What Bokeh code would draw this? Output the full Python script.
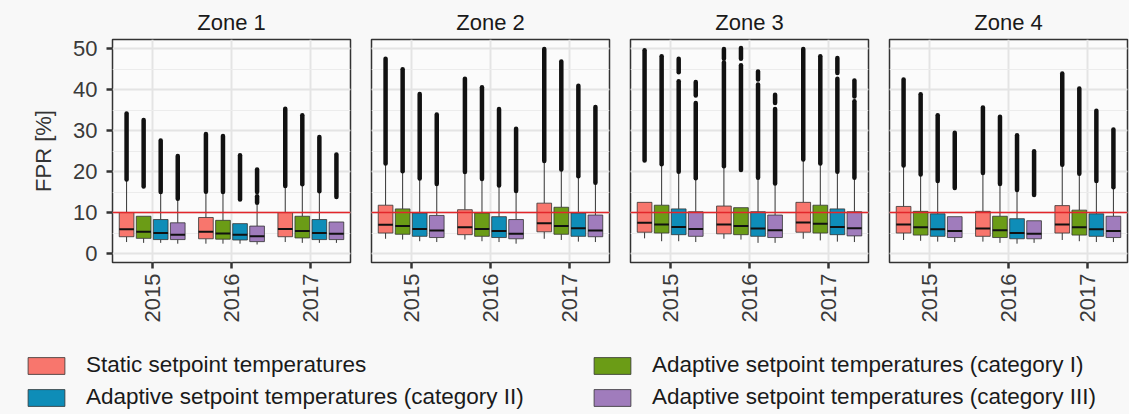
import math
from bokeh.plotting import figure
from bokeh.models import (Range1d, FactorRange, ColumnDataSource, SingleIntervalTicker,
                          Span, Legend, LegendItem)
from bokeh.transform import dodge
from bokeh.layouts import row, column
from bokeh.embed import file_html
from bokeh.resources import INLINE

# ---------------- data ----------------
years = ["2015", "2016", "2017"]
series = ["Static setpoint temperatures",
          "Adaptive setpoint temperatures (category I)",
          "Adaptive setpoint temperatures (category II)",
          "Adaptive setpoint temperatures (category III)"]
colors = ["#F8766D", "#6B9C16", "#0E8DB8", "#A07CBC"]
zones = ["Zone 1", "Zone 2", "Zone 3", "Zone 4"]
threshold = 10
y_ticks_step = 10

# each list: 2015 (S, I, II, III), 2016 (S, I, II, III), 2017 (S, I, II, III)
lower_whisker = {
    "Zone 1": [2.8, 2.6, 2.6, 2.4, 2.4, 2.4, 2.4, 2.2, 2.8, 2.6, 2.6, 2.6],
    "Zone 2": [3.6, 3.4, 3.0, 2.8, 3.4, 3.0, 2.8, 2.4, 3.6, 3.3, 2.9, 2.8],
    "Zone 3": [3.7, 3.0, 3.0, 2.8, 3.6, 3.4, 2.6, 2.6, 3.6, 3.2, 2.9, 2.8],
    "Zone 4": [3.3, 3.1, 2.9, 2.8, 2.9, 2.6, 2.4, 2.6, 3.3, 3.0, 2.8, 2.8],
}
q1 = {
    "Zone 1": [4.1, 3.7, 3.4, 3.4, 3.6, 3.5, 3.3, 2.9, 4.1, 3.8, 3.4, 3.4],
    "Zone 2": [5.0, 4.7, 4.2, 3.9, 4.6, 4.2, 3.9, 3.6, 5.3, 4.7, 4.2, 4.1],
    "Zone 3": [5.2, 5.0, 4.6, 4.2, 4.8, 4.6, 4.2, 3.9, 5.2, 5.0, 4.6, 4.3],
    "Zone 4": [5.0, 4.5, 4.2, 3.9, 4.2, 3.9, 3.6, 3.6, 5.0, 4.5, 4.2, 3.9],
}
median = {
    "Zone 1": [5.9, 5.3, 5.0, 4.6, 5.3, 4.9, 4.6, 4.2, 6.0, 5.5, 5.0, 4.8],
    "Zone 2": [7.0, 6.7, 6.0, 5.6, 6.4, 6.0, 5.5, 4.8, 7.4, 6.7, 6.2, 5.6],
    "Zone 3": [7.5, 7.1, 6.5, 6.0, 7.1, 6.7, 6.1, 5.7, 7.6, 7.3, 6.5, 6.2],
    "Zone 4": [7.1, 6.4, 5.9, 5.5, 6.1, 5.7, 5.0, 4.8, 7.1, 6.4, 5.9, 5.5],
}
q3 = {
    "Zone 1": [10.0, 9.1, 8.3, 7.5, 8.8, 8.1, 7.3, 6.7, 10.0, 9.1, 8.3, 7.7],
    "Zone 2": [11.8, 10.9, 9.9, 9.3, 10.7, 9.9, 9.0, 8.3, 12.3, 11.3, 9.9, 9.4],
    "Zone 3": [12.5, 11.8, 10.9, 10.2, 11.6, 11.2, 10.2, 9.4, 12.5, 11.8, 10.9, 10.2],
    "Zone 4": [11.5, 10.3, 9.7, 9.0, 10.3, 9.1, 8.5, 8.0, 11.7, 10.6, 9.7, 9.1],
}
upper_whisker = {
    "Zone 1": [18.1, 9.1, 15.0, 13.4, 15.1, 15.0, 7.3, 12.0, 16.5, 16.9, 15.2, 7.7],
    "Zone 2": [22.0, 20.1, 18.3, 17.0, 19.9, 18.2, 16.6, 15.3, 22.6, 20.5, 18.9, 17.3],
    "Zone 3": [12.5, 21.8, 20.0, 18.4, 21.3, 11.2, 18.5, 17.1, 23.0, 22.0, 20.0, 18.5],
    "Zone 4": [21.5, 19.3, 17.7, 9.0, 19.7, 17.0, 15.5, 8.0, 21.7, 19.5, 17.7, 16.2],
}
outlier_low = {
    "Zone 1": [18.1, 16.4, 15.0, 13.4, 15.1, 15.0, 13.2, 15.0, 16.5, 16.9, 15.2, 13.8],
    "Zone 2": [22.0, 20.1, 18.3, 17.0, 19.9, 18.2, 16.6, 15.3, 22.6, 20.5, 18.9, 17.3],
    "Zone 3": [22.7, 21.8, 20.0, 18.4, 21.3, 20.4, 18.5, 17.1, 23.0, 22.0, 20.0, 18.5],
    "Zone 4": [21.5, 19.3, 17.7, 16.0, 19.7, 17.0, 15.5, 14.3, 21.7, 19.5, 17.7, 16.2],
}
outlier_high = {
    "Zone 1": [34.2, 32.6, 27.6, 23.8, 29.2, 28.7, 24.0, 20.5, 35.4, 33.8, 28.5, 24.2],
    "Zone 2": [47.6, 45.0, 39.0, 34.0, 42.7, 40.6, 35.3, 30.5, 50.0, 46.9, 41.0, 35.8],
    "Zone 3": [49.7, 48.2, 42.1, 36.8, 46.7, 46.0, 41.3, 35.3, 50.0, 48.2, 42.7, 37.2],
    "Zone 4": [42.5, 38.9, 33.8, 29.5, 35.7, 33.4, 28.9, 25.0, 44.0, 40.3, 34.9, 30.3],
}
# separate outlier clusters
extra_zone = ["Zone 1", "Zone 3", "Zone 3", "Zone 3", "Zone 3", "Zone 3", "Zone 3", "Zone 3", "Zone 3"]
extra_year = ["2016", "2015", "2015", "2016", "2016", "2016", "2016", "2017", "2017"]
extra_series = [3, 2, 3, 0, 1, 2, 3, 2, 3]
extra_low = [12.4, 44.3, 38.6, 47.6, 47.6, 42.5, 36.8, 44.1, 38.4]
extra_high = [14.0, 47.6, 41.9, 50.0, 50.2, 44.5, 38.8, 47.8, 42.3]

# ---------------- styling ----------------
FONT = "Liberation Sans"
PAGE_BG = "#f8f8f8"
PANEL_BG = "#fbfbfb"
GRID = "#e4e4e4"
DODGE = 0.215
BOX_W = 0.185

panels = []
for zi, zone in enumerate(zones):
    first = zi == 0
    last = zi == len(zones) - 1
    p = figure(x_range=FactorRange(factors=years), y_range=Range1d(-2.2, 52.3),
               frame_width=238, frame_height=223,
               min_border_left=112 if first else 11,
               min_border_right=2 if last else 10,
               min_border_top=39, min_border_bottom=67,
               output_backend="svg", toolbar_location=None, title=zone)
    p.background_fill_color = PANEL_BG
    p.border_fill_color = PAGE_BG
    p.outline_line_color = "#333333"
    p.outline_line_width = 1.5
    p.title.text_font = FONT
    p.title.text_font_size = "22px"
    p.title.text_font_style = "normal"
    p.title.text_color = "#1a1a1a"
    p.title.align = "center"
    p.title.standoff = 10

    yt = SingleIntervalTicker(interval=y_ticks_step, num_minor_ticks=2)
    p.yaxis.ticker = yt
    p.ygrid.ticker = yt
    p.ygrid.grid_line_color = GRID
    p.ygrid.grid_line_width = 1.8
    p.ygrid.minor_grid_line_color = "#ececec"
    p.ygrid.minor_grid_line_width = 1.0
    p.xgrid.grid_line_color = GRID
    p.xgrid.grid_line_width = 2

    for ax in (p.xaxis, p.yaxis):
        ax.axis_line_color = None
        ax.major_tick_line_color = "#333333"
        ax.major_tick_line_width = 2.5
        ax.major_tick_out = 6
        ax.major_tick_in = 0
        ax.minor_tick_line_color = None
        ax.major_label_text_font = FONT
        ax.major_label_text_font_size = "22px"
        ax.major_label_text_color = "#3a3a3a"
    p.xaxis.major_label_orientation = math.pi / 2
    p.xaxis.major_label_standoff = 5
    if first:
        p.yaxis.axis_label = "FPR [%]"
        p.yaxis.axis_label_text_font = FONT
        p.yaxis.axis_label_text_font_size = "22px"
        p.yaxis.axis_label_text_font_style = "normal"
        p.yaxis.axis_label_text_color = "#333333"
        p.yaxis.axis_label_standoff = 14
        p.yaxis.major_label_standoff = 9
    else:
        p.yaxis.visible = False

    for si, (name, col) in enumerate(zip(series, colors)):
        idx = [yi * 4 + si for yi in range(len(years))]
        src = ColumnDataSource(dict(
            year=years,
            lw=[lower_whisker[zone][k] for k in idx],
            q1=[q1[zone][k] for k in idx],
            med=[median[zone][k] for k in idx],
            q3=[q3[zone][k] for k in idx],
            uw=[upper_whisker[zone][k] for k in idx],
            olo=[outlier_low[zone][k] for k in idx],
            ohi=[outlier_high[zone][k] for k in idx],
        ))
        off = (si - 1.5) * DODGE
        xc = dodge("year", off, range=p.x_range)
        p.segment(x0=xc, x1=xc, y0="q3", y1="uw", source=src, line_color="#333333", line_width=1)
        p.segment(x0=xc, x1=xc, y0="q1", y1="lw", source=src, line_color="#333333", line_width=1)
        p.segment(x0=xc, x1=xc, y0="olo", y1="ohi", source=src, line_color="#111111",
                  line_width=4.5, line_cap="round")
        p.vbar(x=xc, width=BOX_W, bottom="q1", top="q3", source=src,
               fill_color=col, line_color="#333333", line_width=0.8)
        p.segment(x0=dodge("year", off - BOX_W / 2, range=p.x_range),
                  x1=dodge("year", off + BOX_W / 2, range=p.x_range),
                  y0="med", y1="med", source=src, line_color="#111111", line_width=2)

    ex = [k for k in range(len(extra_zone)) if extra_zone[k] == zone]
    for si in range(len(series)):
        sel = [k for k in ex if extra_series[k] == si]
        if not sel:
            continue
        esrc = ColumnDataSource(dict(year=[extra_year[k] for k in sel],
                                     lo=[extra_low[k] for k in sel],
                                     hi=[extra_high[k] for k in sel]))
        xc = dodge("year", (si - 1.5) * DODGE, range=p.x_range)
        p.segment(x0=xc, x1=xc, y0="lo", y1="hi", source=esrc, line_color="#111111",
                  line_width=4.5, line_cap="round")

    p.add_layout(Span(location=threshold, dimension="width", line_color="#E3262B", line_width=1.5))
    panels.append(p)

# ---------------- legend ----------------
lf = figure(width=1129, height=85, x_range=Range1d(0, 1), y_range=Range1d(0, 1),
            min_border=0, output_backend="svg", toolbar_location=None,
            x_axis_type=None, y_axis_type=None)
lf.grid.visible = False
lf.outline_line_color = None
lf.background_fill_color = PAGE_BG
lf.border_fill_color = PAGE_BG
# legend-only renderers, placed outside the visible range
dummy = [lf.quad(left=[5], right=[6], top=[5], bottom=[4], fill_color=c,
                 line_color="#333333", line_width=0.8) for c in colors]


def make_legend(items, x):
    lg = Legend(items=[LegendItem(label=series[i], renderers=[dummy[i]]) for i in items],
                location=(x, 4), orientation="vertical", glyph_width=46, glyph_height=21,
                label_standoff=17, spacing=6, padding=0, margin=0, label_height=21,
                border_line_color=None, background_fill_alpha=0,
                label_text_font=FONT, label_text_font_size="22.5px", label_text_color="#1a1a1a")
    lf.add_layout(lg)


make_legend([0, 2], 23)
make_legend([1, 3], 589)

top_row = row(*panels, styles={"background-color": PAGE_BG})
layout = column(top_row, lf, styles={"background-color": PAGE_BG})
open("out.html", "w").write(file_html(layout, INLINE))
